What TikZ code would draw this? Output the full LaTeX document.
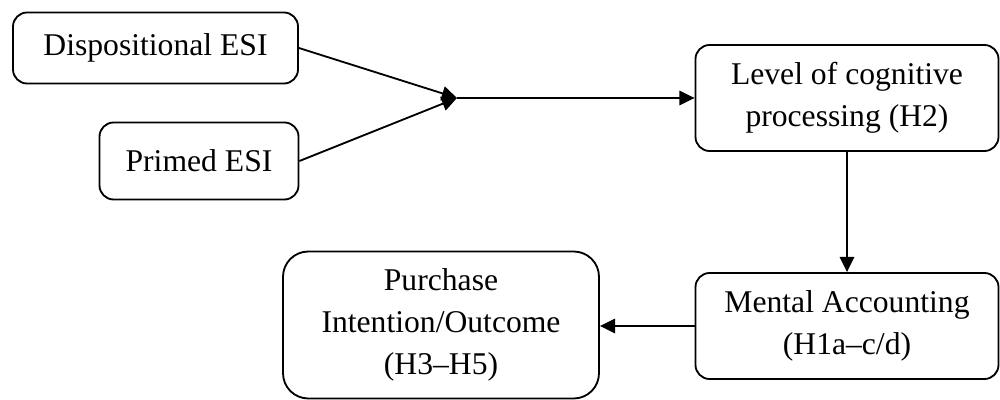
\documentclass[tikz,border=0pt]{standalone}
\usepackage{fontspec}
\setmainfont{Liberation Serif}
\usetikzlibrary{arrows.meta}
\tikzset{
  box/.style={draw, line width=1.3pt, rounded corners=10pt, align=center, inner sep=0pt,
    font=\fontsize{22.5}{30}\selectfont},
  conn/.style={line width=1.3pt, -{Triangle[length=0.38cm,width=0.36cm]}}
}
\begin{document}
\begin{tikzpicture}[x=0.025cm,y=-0.025cm]
\useasboundingbox (0,0) rectangle (1000,400);
\node[box, minimum width=285*0.025cm, minimum height=71*0.025cm] (disp) at (155.5,48) {Dispositional ESI};
\node[box, minimum width=199*0.025cm, minimum height=77*0.025cm] (primed) at (199,161) {Primed ESI};
\node[box, minimum width=303*0.025cm, minimum height=106*0.025cm] (level) at (847,98) {Level of cognitive\\processing (H2)};
\node[box, minimum width=303*0.025cm, minimum height=106*0.025cm] (mental) at (847,326) {Mental Accounting\\(H1a–c/d)};
\node[box, rounded corners=18pt, minimum width=316*0.025cm, minimum height=147*0.025cm] (purchase) at (441,325) {Purchase\\Intention/Outcome\\(H3–H5)};
\coordinate (m) at (457,98);
\draw[conn] (disp.east) -- (m);
\draw[conn] (primed.east) -- (m);
\draw[conn] (m) -- (level.west);
\draw[conn] (level.south) -- (level.south |- mental.north);
\draw[conn] (mental.west) -- (mental.west -| purchase.east);
\end{tikzpicture}
\end{document}
